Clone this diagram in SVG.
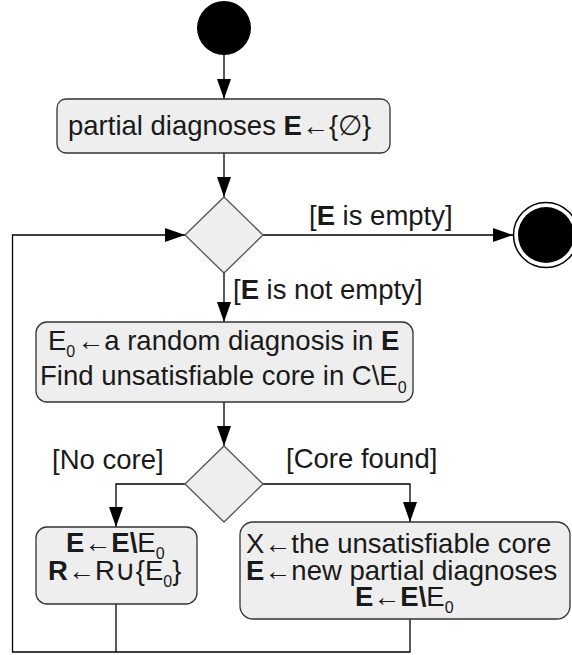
<svg xmlns="http://www.w3.org/2000/svg" width="572" height="655" viewBox="0 0 572 655">
<style>
  .box { fill: #eeeeee; stroke: #333333; stroke-width: 1.3; }
  .dia { fill: #eeeeee; stroke: #555555; stroke-width: 1.3; }
  .t { font-family: "Liberation Sans", Arial, sans-serif; font-size: 27.5px; fill: #1a1a1a; }
  .b { font-weight: bold; }
  .ar { font-size: 27px; }
  .sub { font-size: 16px; }
  .edge { fill: none; stroke: #000000; stroke-width: 1.3; }
</style>
<defs>
  <marker id="ah" markerUnits="userSpaceOnUse" markerWidth="20" markerHeight="14" refX="20" refY="7" orient="auto">
    <path d="M0,0 L20,7 L0,14 z" fill="#000"/>
  </marker>
</defs>
<rect width="572" height="655" fill="#ffffff"/>
<g id="connectors">
  <path class="edge" d="M224,55 V99" marker-end="url(#ah)"/>
  <path class="edge" d="M224,153 V197" marker-end="url(#ah)"/>
  <path class="edge" d="M263,235 H513" marker-end="url(#ah)"/>
  <path class="edge" d="M224,273 V322" marker-end="url(#ah)"/>
  <path class="edge" d="M224,402 V446" marker-end="url(#ah)"/>
  <path class="edge" d="M185,484 H116 V527" marker-end="url(#ah)"/>
  <path class="edge" d="M263,484 H410 V522" marker-end="url(#ah)"/>
  <path class="edge" d="M116,604 V652"/>
  <path class="edge" d="M410,619 V652 H12.5 V235 H185" marker-end="url(#ah)"/>
  <text class="t" x="309" y="225">[<tspan class="b">E</tspan> is empty]</text>
  <text class="t" x="233" y="299">[<tspan class="b">E</tspan> is not empty]</text>
  <text class="t" x="52" y="469">[No core]</text>
  <text class="t" x="286" y="468">[Core found]</text>
</g>
<g id="start">
  <circle cx="224" cy="28" r="27" fill="#000"/>
</g>
<g id="init">
  <rect class="box" x="57" y="99" width="333" height="54" rx="9"/>
  <text class="t" x="68" y="135">partial diagnoses <tspan class="b">E</tspan><tspan class="ar">←</tspan>{∅}</text>
</g>
<g id="decision1">
  <polygon class="dia" points="224,197 263,235 224,273 185,235"/>
</g>
<g id="end">
  <circle cx="546" cy="235" r="32.5" fill="#fff" stroke="#000" stroke-width="1.5"/>
  <circle cx="546" cy="235" r="28" fill="#000"/>
</g>
<g id="pick">
  <rect class="box" x="36" y="322" width="377" height="80" rx="11"/>
  <text class="t" x="48" y="350">E<tspan class="sub" dy="7">0</tspan><tspan class="ar" dy="-7" dx="2">←</tspan>a random diagnosis in <tspan class="b">E</tspan></text>
  <text class="t" x="40" y="385">Find unsatisfiable core in C\E<tspan class="sub" dy="8">0</tspan></text>
</g>
<g id="decision2">
  <polygon class="dia" points="224,446 263,484 224,522 185,484"/>
</g>
<g id="nocore">
  <rect class="box" x="36" y="527" width="161" height="77" rx="11"/>
  <text class="t" x="66" y="552"><tspan class="b">E</tspan><tspan class="ar">←</tspan><tspan class="b">E\</tspan>E<tspan class="sub" dy="7">0</tspan></text>
  <text class="t" x="48" y="580"><tspan class="b">R</tspan><tspan class="ar">←</tspan>R∪{E<tspan class="sub" dy="7">0</tspan><tspan dy="-7">}</tspan></text>
</g>
<g id="corefound">
  <rect class="box" x="240" y="522" width="330" height="97" rx="13"/>
  <text class="t" x="246" y="553">X<tspan class="ar">←</tspan>the unsatisfiable core</text>
  <text class="t" x="246" y="580"><tspan class="b">E</tspan><tspan class="ar">←</tspan>new partial diagnoses</text>
  <text class="t" x="355" y="606"><tspan class="b">E</tspan><tspan class="ar">←</tspan><tspan class="b">E\</tspan>E<tspan class="sub" dy="7">0</tspan></text>
</g>
</svg>
